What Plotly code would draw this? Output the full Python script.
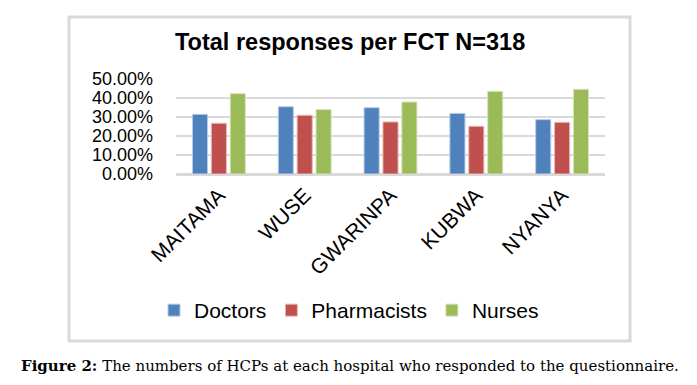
import plotly.graph_objects as go

hospitals = ["MAITAMA", "WUSE", "GWARINPA", "KUBWA", "NYANYA"]
doctors = [0.314, 0.354, 0.349, 0.319, 0.286]
pharmacists = [0.267, 0.309, 0.274, 0.251, 0.272]
nurses = [0.423, 0.339, 0.379, 0.435, 0.446]
y_ticks = [0, 0.1, 0.2, 0.3, 0.4, 0.5]

W, H = 697, 385
L, R, T, B = 176, 605, 79, 174

def px(x):
    return (x - L) / (R - L)

def py(y):
    return (B - y) / (B - T)

font_family = "Liberation Sans, Arial, sans-serif"

fig = go.Figure()
series = [("Doctors", doctors, "#4F81BD", "#B8CCE4"),
          ("Pharmacists", pharmacists, "#C0504D", "#E6B9B8"),
          ("Nurses", nurses, "#9BBB59", "#D7E4BD")]
for name, vals, col, edge in series:
    fig.add_trace(go.Bar(x=hospitals, y=vals, name=name,
                         marker=dict(color=col, line=dict(color=edge, width=1))))

fig.update_layout(
    width=W, height=H,
    margin=dict(l=L, r=W - R, t=T, b=H - B, pad=0),
    paper_bgcolor="white", plot_bgcolor="white",
    barmode="group", bargap=0.34, bargroupgap=0.2,
    font=dict(family=font_family, size=18, color="black"),
    showlegend=True,
    legend=dict(orientation="h", x=px(154), xanchor="left", y=py(290), yanchor="top",
                font=dict(size=21, family=font_family), traceorder="normal",
                bgcolor="rgba(0,0,0,0)"),
    xaxis=dict(tickangle=-45, showgrid=False, showline=False, ticks="",
               tickfont=dict(size=21), ticklabelstandoff=4),
    yaxis=dict(range=[0, 0.5], tickvals=y_ticks, tickformat=".2%",
               showgrid=True, gridcolor="#D9D9D9", gridwidth=2,
               zeroline=True, zerolinecolor="#D9D9D9", zerolinewidth=3,
               showline=False, ticks="", ticklabelstandoff=22,
               tickfont=dict(size=18)),
)

# chart box border
fig.add_shape(type="rect", xref="paper", yref="paper",
              x0=px(69), x1=px(630), y0=py(341), y1=py(17),
              line=dict(color="#D9D9D9", width=3), fillcolor="rgba(0,0,0,0)",
              layer="below")

fig.add_annotation(text="<b>Total responses per FCT N=318</b>", xref="paper", yref="paper",
                   x=px(350), y=py(42), xanchor="center", yanchor="middle", showarrow=False,
                   font=dict(size=23.5, family=font_family, color="black"))

fig.add_annotation(text="<b>Figure 2:</b> The numbers of HCPs at each hospital who responded to the questionnaire.",
                   xref="paper", yref="paper", x=px(350), y=py(366),
                   xanchor="center", yanchor="middle", showarrow=False,
                   font=dict(size=15, family="DejaVu Serif, serif", color="black"))

fig.write_html("out.html", config={"displayModeBar": False},
               post_script="document.body.style.margin='0';document.body.style.overflow='hidden';")
